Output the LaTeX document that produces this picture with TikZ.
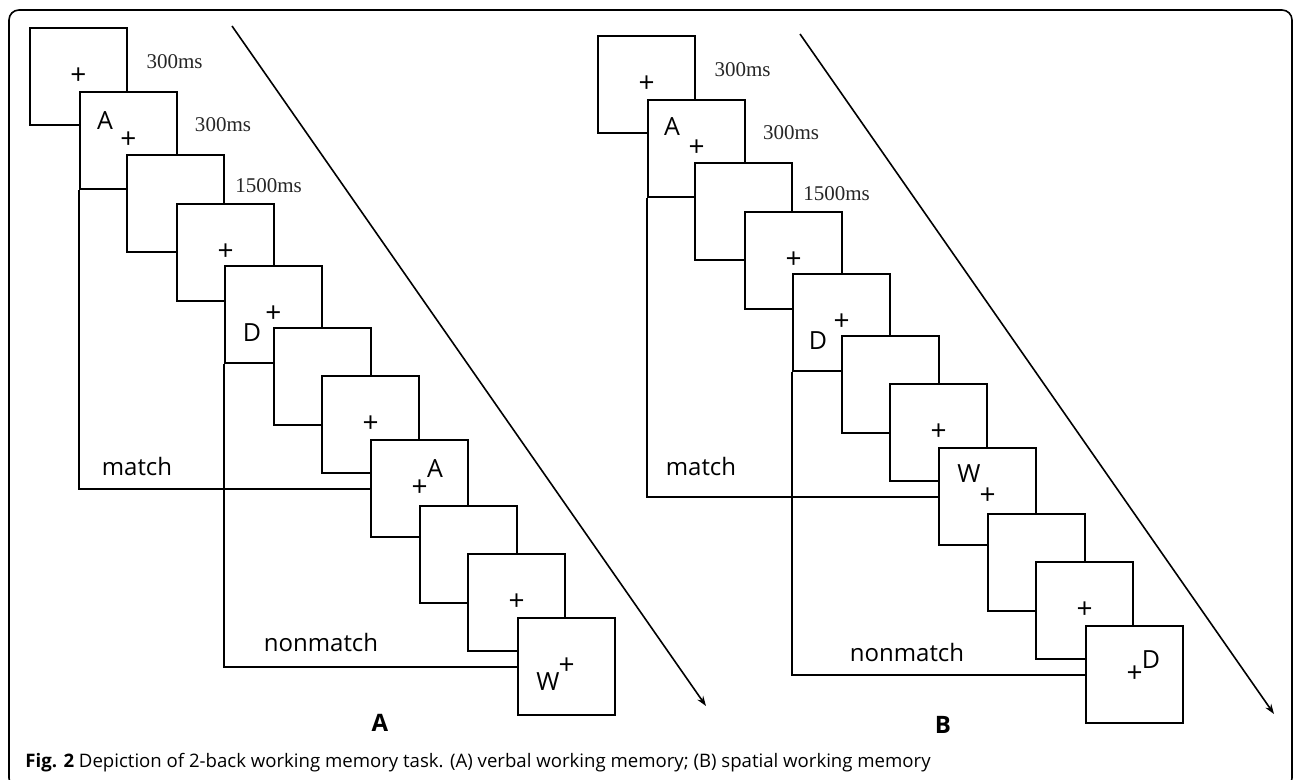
\documentclass[tikz,border=0pt]{standalone}
\usepackage{fontspec}
\setmainfont{Liberation Serif}
\setsansfont{Open Sans}
\usetikzlibrary{positioning, arrows.meta}

\tikzset{
	screen/.style={draw, fill=white, line width=1pt, minimum size=48.5pt, inner sep=0pt, anchor=north west},
	fix/.style={font=\sffamily\fontsize{14}{14}\selectfont, inner sep=0pt},
	stim/.style={font=\sffamily\fontsize{12.5}{12.5}\selectfont, inner sep=0pt},
	dur/.style={font=\fontsize{10.5}{10.5}\selectfont, inner sep=0pt, text=black!85},
	cond/.style={font=\sffamily\fontsize{12}{12}\selectfont, inner sep=0pt},
	link/.style={line width=1pt},
	timeline/.style={line width=0.8pt, -{Stealth[length=5pt, width=3.5pt]}},
}

\begin{document}
\begin{tikzpicture}[x=0.5pt, y=-0.5pt]
	\useasboundingbox (0,0) rectangle (1293,780);
	\draw[line width=0.8pt, rounded corners=5pt] (9,10) rectangle (1292,788);

	% both panels share the same sequence of screens
	\foreach \p/\dx/\dy in {a/0/0, b/568/8} {
		\begin{scope}[shift={(\dx,\dy)}]
			\foreach \x/\y [count=\i] in {29/27, 79/91, 126/154, 176/203, 224/265, 273/327, 321/375, 370/439, 419/505, 467/553, 517/617}
				\node[screen] (\p\i) at (\x,\y) {};
			\foreach \i in {1,2,4,5,7,8,10,11}
				\node[fix] (plus-\p\i) at (\p\i.center) {+};

			\draw[link] (\p2.south west) |- (\p8.west);
			\draw[link] (\p5.south west) |- (\p11.west);

			\node[dur] (t1-\p) at (174.5,62) {300ms};
			\node[dur] (t2-\p) at (223,125) {300ms};
			\node[dur] (t3-\p) at (268.5,186) {1500ms};

			\coordinate (start-\p) at (232,26);
			\coordinate (end-\p) at (706,706);
			\draw[timeline] (start-\p) -- (end-\p);
		\end{scope}
	}

	% verbal task
	\node[stim] (la2) at (105,121) {A};
	\node[stim] (la5) at (252,333) {D};
	\node[stim] (la8) at (435,469) {A};
	\node[stim] (la11) at (548,682) {W};
	\node[cond] (match-a) at (137,466) {match};
	\node[cond] (nonmatch-a) at (321,642) {nonmatch};
	\node[font=\sffamily\bfseries\fontsize{12}{12}\selectfont, inner sep=0pt] (panel-a) at (380,723) {A};

	% spatial task
	\node[stim] (lb2) at (672,127) {A};
	\node[stim] (lb5) at (818,341) {D};
	\node[stim] (lb8) at (969,474) {W};
	\node[stim] (lb11) at (1151,660) {D};
	\node[cond] (match-b) at (701,466) {match};
	\node[cond] (nonmatch-b) at (907,652) {nonmatch};
	\node[font=\sffamily\bfseries\fontsize{12}{12}\selectfont, inner sep=0pt] (panel-b) at (943,725) {B};

	\node[anchor=base west, font=\sffamily\fontsize{9.3}{9.3}\selectfont, inner sep=0pt] (caption) at (25,767) {\textbf{Fig. 2} Depiction of 2-back working memory task. (A) verbal working memory; (B) spatial working memory};
\end{tikzpicture}
\end{document}
